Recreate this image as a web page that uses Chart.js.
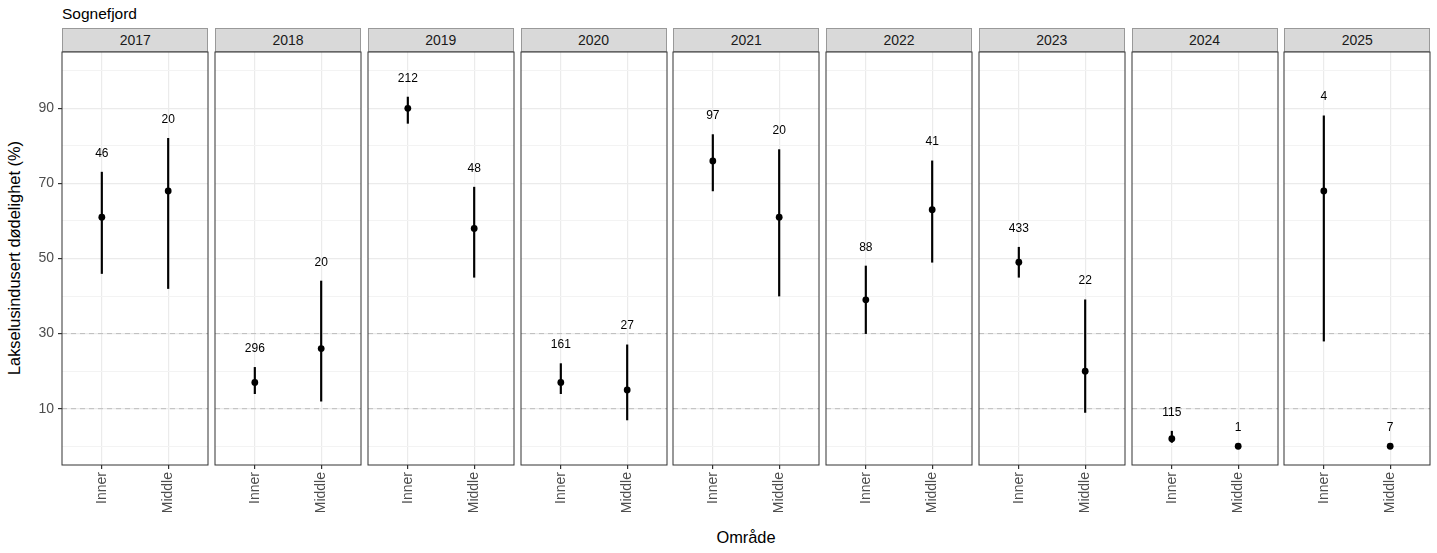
<!DOCTYPE html>
<html>
<head>
<meta charset="utf-8">
<script src="https://cdn.jsdelivr.net/npm/chart.js@4.4.1/dist/chart.umd.min.js"></script>
<style>
    body { margin: 0; background: #fff; font-family: "Liberation Sans", Arial, sans-serif; }
    #fig { position: relative; width: 1437px; height: 553px; overflow: hidden; background: #fff; }
    #title { position: absolute; left: 62px; top: 5px; font-size: 15.5px; line-height: 18px; color: #000; }
    #ytitle { position: absolute; left: 14px; top: 258px; transform: translate(-50%, -50%) rotate(-90deg);
              white-space: nowrap; font-size: 16.4px; color: #000; }
    #xtitle { position: absolute; left: 746px; top: 527px; transform: translateX(-50%);
              font-size: 16.4px; line-height: 20px; color: #000; }
    .strip { position: absolute; top: 28px; height: 24px; box-sizing: border-box; border: 1px solid #999;
             background: #d9d9d9; color: #1a1a1a; font-size: 14px; line-height: 22px; text-align: center; }
    .panel { position: absolute; }
</style>
</head>
<body>
<div id="fig">
    <div id="title">Sognefjord</div>
    <div id="ytitle">Lakselusindusert dødelighet (%)</div>
    <div id="xtitle">Område</div>
</div>
<script>
// facet years and categories
const years = ["2017", "2018", "2019", "2020", "2021", "2022", "2023", "2024", "2025"];
const areas = ["Inner", "Middle"];

// estimated lice-induced mortality (%) with interval, and number of fish (n)
const innerEst = [61, 17, 90, 17, 76, 39, 49, 2, 68];
const innerLo  = [46, 14, 86, 14, 68, 30, 45, 1, 28];
const innerHi  = [73, 21, 93, 22, 83, 48, 53, 4, 88];
const innerN   = [46, 296, 212, 161, 97, 88, 433, 115, 4];

const middleEst = [68, 26, 58, 15, 61, 63, 20, 0, 0];
const middleLo  = [42, 12, 45, 7, 40, 49, 9, 0, 0];
const middleHi  = [82, 44, 69, 27, 79, 76, 39, 0, 0];
const middleN   = [20, 20, 48, 27, 20, 41, 22, 1, 7];

// dashed reference levels and axis ticks
const thresholds = [10, 30];
const yLabelTicks = [10, 30, 50, 70, 90];
const yGridTicks = [0, 10, 20, 30, 40, 50, 60, 70, 80, 90, 100];

const FONT = '"Liberation Sans", Arial, sans-serif';
const PANEL_X0 = 62.3, PANEL_STEP = 152.75, PANEL_W = 146;
const AREA_TOP = 51.5, AREA_H = 413, XAXIS_H = 60, Y_AXIS_W = 62;

// border around each facet panel
const panelFrame = {
    id: "panelFrame",
    afterDraw(chart) {
        const a = chart.chartArea, ctx = chart.ctx;
        ctx.save();
        ctx.strokeStyle = "#333333";
        ctx.lineWidth = 1;
        ctx.strokeRect(a.left, a.top, a.right - a.left, a.bottom - a.top);
        ctx.restore();
    }
};

// n labels above the upper end of each interval
const countLabels = {
    id: "countLabels",
    afterDatasetsDraw(chart, args, opts) {
        const ctx = chart.ctx, xs = chart.scales.x, ys = chart.scales.y;
        ctx.save();
        ctx.font = "12px " + FONT;
        ctx.fillStyle = "#000";
        ctx.textAlign = "center";
        ctx.textBaseline = "middle";
        opts.n.forEach((n, j) => {
            ctx.fillText(String(n), xs.getPixelForValue(j + 1), ys.getPixelForValue(opts.hi[j] + 5));
        });
        ctx.restore();
    }
};

const fig = document.getElementById("fig");

years.forEach((year, i) => {
    const first = i === 0;
    const panelLeft = PANEL_X0 + i * PANEL_STEP;

    const strip = document.createElement("div");
    strip.className = "strip";
    strip.style.left = panelLeft + "px";
    strip.style.width = PANEL_W + "px";
    strip.textContent = year;
    fig.appendChild(strip);

    const padL = first ? Y_AXIS_W : 1;
    const wrap = document.createElement("div");
    wrap.className = "panel";
    wrap.style.left = (panelLeft - padL) + "px";
    wrap.style.top = (AREA_TOP - 1) + "px";
    const canvas = document.createElement("canvas");
    canvas.width = PANEL_W + padL + 1;
    canvas.height = AREA_H + 1 + XAXIS_H;
    wrap.appendChild(canvas);
    fig.appendChild(wrap);

    const est = [innerEst[i], middleEst[i]];
    const lo = [innerLo[i], middleLo[i]];
    const hi = [innerHi[i], middleHi[i]];
    const n = [innerN[i], middleN[i]];

    const datasets = thresholds.map((t) => ({
        type: "line",
        data: [{ x: 0.4, y: t }, { x: 2.6, y: t }],
        borderColor: "#bdbdbd",
        borderWidth: 1,
        borderDash: [5, 4],
        pointRadius: 0,
        showLine: true,
        order: 3
    }));
    datasets.push({
        type: "bar",
        data: areas.map((a, j) => ({ x: j + 1, y: [lo[j], hi[j]] })),
        backgroundColor: "#000",
        barThickness: 1.5,
        order: 2
    });
    datasets.push({
        type: "scatter",
        data: areas.map((a, j) => ({ x: j + 1, y: est[j] })),
        backgroundColor: "#000",
        borderWidth: 0,
        pointRadius: 3.4,
        order: 1
    });

    new Chart(canvas.getContext("2d"), {
        type: "scatter",
        data: { datasets: datasets },
        options: {
            responsive: false,
            animation: false,
            events: [],
            layout: {
                autoPadding: false,
                padding: { left: first ? 0 : 1, right: 1, top: 1, bottom: 0 }
            },
            plugins: {
                legend: { display: false },
                tooltip: { enabled: false },
                countLabels: { hi: hi, n: n }
            },
            scales: {
                x: {
                    type: "linear",
                    min: 0.4,
                    max: 2.6,
                    offset: false,
                    afterBuildTicks: (s) => { s.ticks = [{ value: 1 }, { value: 2 }]; },
                    afterFit: (s) => { s.height = XAXIS_H; s.paddingLeft = 0; s.paddingRight = 0; },
                    ticks: {
                        autoSkip: false,
                        minRotation: 90,
                        maxRotation: 90,
                        padding: 3,
                        color: "#4d4d4d",
                        font: { family: FONT, size: 14 },
                        callback: (v) => areas[v - 1]
                    },
                    grid: { offset: false, color: "#ebebeb", lineWidth: 1.2, tickColor: "#333333", tickLength: 4 },
                    border: { display: false }
                },
                y: {
                    min: -5,
                    max: 105,
                    beginAtZero: false,
                    afterBuildTicks: (s) => { s.ticks = yGridTicks.map((v) => ({ value: v })); },
                    afterFit: (s) => {
                        s.width = first ? Y_AXIS_W : 0;
                        s.paddingTop = 0;
                        s.paddingBottom = 0;
                    },
                    ticks: {
                        display: first,
                        padding: 4,
                        color: "#4d4d4d",
                        font: { family: FONT, size: 14 },
                        callback: (v) => (yLabelTicks.includes(v) ? String(v) : "")
                    },
                    grid: {
                        drawTicks: first,
                        tickLength: 4,
                        color: (c) => (yLabelTicks.includes(c.tick.value) ? "#ebebeb" : "#f3f3f3"),
                        lineWidth: (c) => (yLabelTicks.includes(c.tick.value) ? 1.2 : 1),
                        tickColor: (c) => (yLabelTicks.includes(c.tick.value) ? "#333333" : "rgba(0,0,0,0)")
                    },
                    border: { display: false }
                }
            }
        },
        plugins: [panelFrame, countLabels]
    });
});
</script>
</body>
</html>
